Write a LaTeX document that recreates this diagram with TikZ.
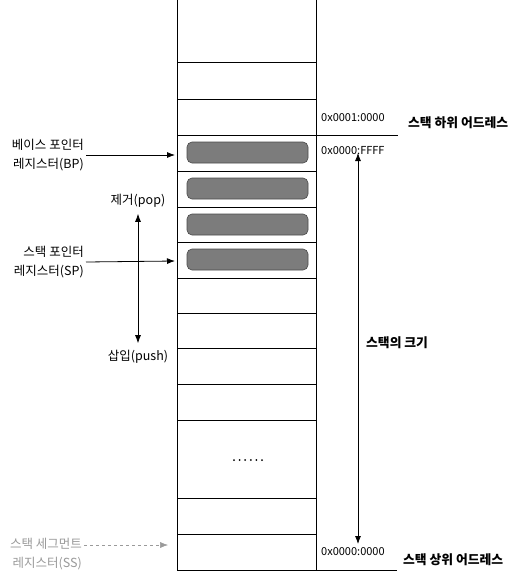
\documentclass[tikz,border=0pt]{standalone}
\usepackage{fontspec}
\setmainfont{Noto Sans CJK KR}
\usetikzlibrary{arrows.meta}
\definecolor{SKGray}{HTML}{7C7C7C}
\definecolor{SKEdge}{HTML}{4A4A4A}
\definecolor{SKFade}{HTML}{9A9A9A}
\tikzset{
  cell/.style={line width=0.9pt},
  slot/.style={fill=SKGray,draw=SKEdge,line width=0.6pt,rounded corners=5pt},
  lbl/.style={font=\fontsize{12.5}{19}\selectfont,align=right,inner sep=2pt},
  addr/.style={font=\fontsize{11}{13}\selectfont,anchor=west,inner sep=0pt},
  title/.style={font=\bfseries\fontsize{12.8}{15}\selectfont,anchor=west,inner sep=0pt},
  ptr/.style={-{Latex[length=8pt,width=6pt]},line width=0.8pt},
  dbl/.style={{Latex[length=8pt,width=6pt]}-{Latex[length=8pt,width=6pt]},line width=0.8pt}
}

\begin{document}
\begin{tikzpicture}[x=1pt,y=-1pt]
\path[use as bounding box,fill=white] (0,0) rectangle (531,581);
% stack column
\draw[cell] (177,0) -- (177,570);
\draw[cell] (316,0) -- (316,570);
\foreach \yy in {62,99,171,207,242,278,313,348,384,420,498,534}
  \draw[cell] (177,\yy) -- (316,\yy);
\draw[cell] (177,135) -- (398,135);
\draw[cell] (177,570) -- (397,570);
% filled slots
\foreach \yy in {135,171,207,242}
  \draw[slot] (187,\yy+7) rectangle (308,\yy+28);
\foreach \k in {0,...,5}
  \fill (234+\k*5.6,460) circle (1);
% left side
\node[lbl,anchor=east] (bp) at (86,155) {베이스 포인터\\레지스터(BP)};
\coordinate (bpin) at (175,155);
\draw[ptr] (bp.east) -- (bpin);
\node[lbl,anchor=east] (sp) at (86,262) {스택 포인터\\레지스터(SP)};
\coordinate (spin) at (175,261);
\draw[ptr] (sp.east) -- (spin);
\node[lbl] (pop) at (138,201) {제거(pop)};
\node[lbl] (push) at (138,357) {삽입(push)};
\draw[dbl] ([yshift=-4pt]pop.south) -- ([yshift=5pt]push.north);
\node[lbl,anchor=east,text=SKFade] (ss) at (84,554) {스택 세그먼트\\레지스터(SS)};
\coordinate (ssin) at (168,545);
\draw[ptr,dashed,SKFade,line width=0.5pt] (ss.east |- ssin) -- (ssin);
% right side
\node[addr] (hi) at (321,118) {0x0001:0000};
\node[addr] (ff) at (321,151) {0x0000:FFFF};
\node[addr] (lo) at (321,552) {0x0000:0000};
\node[title] (under) at (408,123) {스택 하위 어드레스};
\node[title] (upper) at (403,560) {스택 상위 어드레스};
\coordinate (szt) at (358,153);
\coordinate (szb) at (358,544);
\draw[dbl] (szt) -- (szb);
\node[title] (size) at (366,343) {스택의 크기};
\end{tikzpicture}
\end{document}
